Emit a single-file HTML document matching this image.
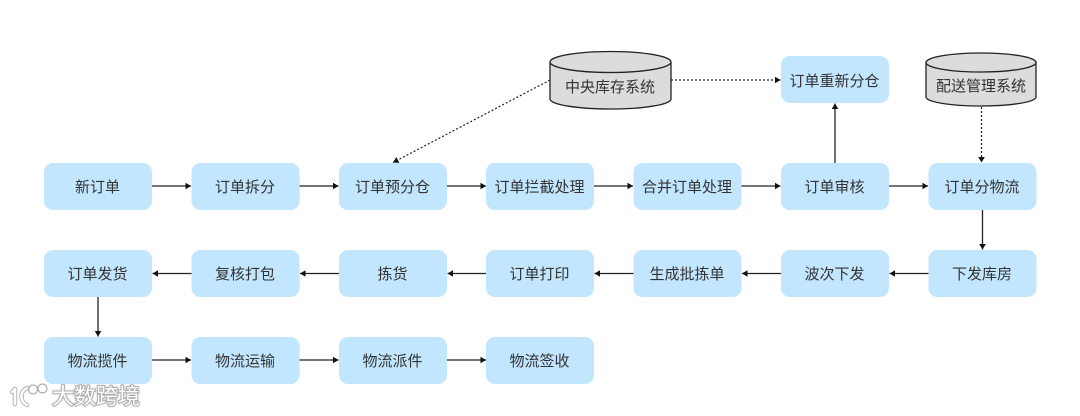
<!DOCTYPE html>
<html><head><meta charset="utf-8"><style>
html,body{margin:0;padding:0;background:#fff;width:1080px;height:416px;overflow:hidden}
svg{display:block}
.b{fill:#c2e6fe}
text{font-family:"Liberation Sans","Noto Sans CJK SC",sans-serif;font-size:15px;fill:#333;text-anchor:middle}
.l{stroke:#222;stroke-width:1.3;fill:none}
.d{stroke:#222;stroke-width:1.2;fill:none;stroke-dasharray:2 2}
.c{fill:#dcdcde;stroke:#222;stroke-width:1.3}
.wm{font-size:22px;fill:#fff;stroke:#aaa;stroke-width:1.8;paint-order:stroke;filter:drop-shadow(0 0 1px #ccc)}
</style></head><body>
<svg width="1080" height="416" viewBox="0 0 1080 416" xmlns="http://www.w3.org/2000/svg">
<defs><marker id="a" markerUnits="userSpaceOnUse" markerWidth="8" markerHeight="8" refX="6" refY="4" orient="auto"><path d="M0.500 0.700L6 4L0.500 7.300Z" fill="#111"/></marker></defs>

<g class="b">
<rect x="44" y="163" width="108" height="47" rx="9"/><rect x="191.500" y="163" width="108" height="47" rx="9"/><rect x="339" y="163" width="108" height="47" rx="9"/><rect x="486" y="163" width="108" height="47" rx="9"/><rect x="633.500" y="163" width="108" height="47" rx="9"/><rect x="781" y="163" width="108" height="47" rx="9"/><rect x="928.500" y="163" width="108" height="47" rx="9"/>
<rect x="44" y="250" width="108" height="47" rx="9"/><rect x="191.500" y="250" width="108" height="47" rx="9"/><rect x="339" y="250" width="108" height="47" rx="9"/><rect x="486" y="250" width="108" height="47" rx="9"/><rect x="633.500" y="250" width="108" height="47" rx="9"/><rect x="781" y="250" width="108" height="47" rx="9"/><rect x="928.500" y="250" width="108" height="47" rx="9"/>
<rect x="44" y="337" width="108" height="47" rx="9"/><rect x="191.500" y="337" width="108" height="47" rx="9"/><rect x="339" y="337" width="108" height="47" rx="9"/><rect x="486" y="337" width="108" height="47" rx="9"/>
<rect x="781" y="56" width="108" height="47" rx="9"/>
</g>

<g>
<text x="97.500" y="192">新订单</text><text x="245" y="192">订单拆分</text><text x="392.500" y="192">订单预分仓</text><text x="539.500" y="192">订单拦截处理</text><text x="687" y="192">合并订单处理</text><text x="834.500" y="192">订单审核</text><text x="982" y="192">订单分物流</text>
<text x="97.500" y="279">订单发货</text><text x="245" y="279">复核打包</text><text x="392.500" y="279">拣货</text><text x="539.500" y="279">订单打印</text><text x="687" y="279">生成批拣单</text><text x="834.500" y="279">波次下发</text><text x="982" y="279">下发库房</text>
<text x="97.500" y="366">物流揽件</text><text x="245" y="366">物流运输</text><text x="392.500" y="366">物流派件</text><text x="539.500" y="366">物流签收</text>
<text x="834.500" y="86">订单重新分仓</text>
</g>

<path class="c" d="M550 63V99A60.500 10 0 0 0 671 99V63Z"/>
<ellipse class="c" cx="610.500" cy="62" rx="60.500" ry="10.500"/>
<text x="610" y="92">中央库存系统</text>
<path class="c" d="M926 62V97A55 9 0 0 0 1036 97V62Z"/>
<ellipse class="c" cx="981" cy="62.500" rx="55" ry="9.500"/>
<text x="981" y="91">配送管理系统</text>

<g class="l">
<path d="M152 186H191" marker-end="url(#a)"/><path d="M299.500 186H338.500" marker-end="url(#a)"/><path d="M447 186H486" marker-end="url(#a)"/><path d="M594 186H633" marker-end="url(#a)"/><path d="M741.500 186H780.500" marker-end="url(#a)"/><path d="M889 186H928" marker-end="url(#a)"/>
<path d="M191.500 273.500H152.500" marker-end="url(#a)"/><path d="M339 273.500H300" marker-end="url(#a)"/><path d="M486 273.500H447.500" marker-end="url(#a)"/><path d="M633.500 273.500H594.500" marker-end="url(#a)"/><path d="M781 273.500H742" marker-end="url(#a)"/><path d="M928.500 273.500H889.500" marker-end="url(#a)"/>
<path d="M152 360H191" marker-end="url(#a)"/><path d="M299.500 360H338.500" marker-end="url(#a)"/><path d="M447 360H486" marker-end="url(#a)"/>
<path d="M835 163V103.500" marker-end="url(#a)"/>
<path d="M982.500 210V249.500" marker-end="url(#a)"/>
<path d="M98 297V336.500" marker-end="url(#a)"/>
</g>
<path class="d" d="M671 80H780.500" marker-end="url(#a)"/>
<path class="d" d="M550 80L393 162.500" marker-end="url(#a)"/>
<path class="d" d="M981.500 107V162.500" marker-end="url(#a)"/>

<g fill="none" stroke-linecap="round" stroke-linejoin="round">
<path d="M12 392L15 389V404" stroke="#b5b5b5" stroke-width="4.500"/><path d="M12 392L15 389V404" stroke="#fff" stroke-width="2.500"/>
<path d="M27 388C20 391 19 401 27 405" stroke="#b5b5b5" stroke-width="4.500"/><path d="M27 388C20 391 19 401 27 405" stroke="#fff" stroke-width="2.500"/>
</g>
<g fill="#fff" stroke="#aaa" stroke-width="1.200">
<circle cx="33" cy="389.500" r="4.500"/><circle cx="42.500" cy="388.500" r="4.500"/>
</g>
<text class="wm" x="96" y="404">大数跨境</text>
</svg>
</body></html>
